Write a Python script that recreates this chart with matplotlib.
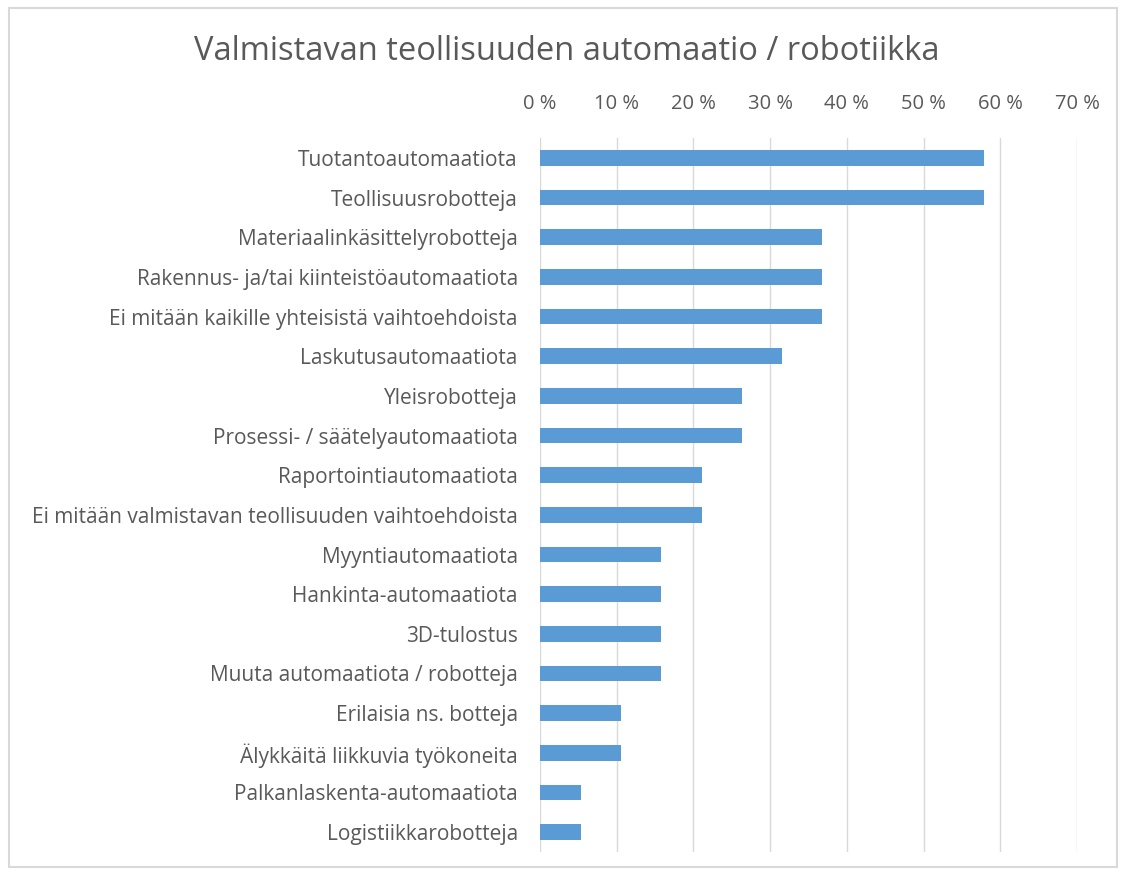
import matplotlib.pyplot as plt
from matplotlib.patches import Rectangle

# survey answers, share of respondents (n = 19)
categories = [
    "Tuotantoautomaatiota",
    "Teollisuusrobotteja",
    "Materiaalinkäsittelyrobotteja",
    "Rakennus- ja/tai kiinteistöautomaatiota",
    "Ei mitään kaikille yhteisistä vaihtoehdoista",
    "Laskutusautomaatiota",
    "Yleisrobotteja",
    "Prosessi- / säätelyautomaatiota",
    "Raportointiautomaatiota",
    "Ei mitään valmistavan teollisuuden vaihtoehdoista",
    "Myyntiautomaatiota",
    "Hankinta-automaatiota",
    "3D-tulostus",
    "Muuta automaatiota / robotteja",
    "Erilaisia ns. botteja",
    "Älykkäitä liikkuvia työkoneita",
    "Palkanlaskenta-automaatiota",
    "Logistiikkarobotteja",
]
shares = [57.9, 57.9, 36.8, 36.8, 36.8, 31.6, 26.3, 26.3, 21.1, 21.1,
          15.8, 15.8, 15.8, 15.8, 10.5, 10.5, 5.3, 5.3]
ticks = [0, 10, 20, 30, 40, 50, 60, 70]
title = "Valmistavan teollisuuden automaatio / robotiikka"

plt.rcParams["font.family"] = ["Open Sans", "DejaVu Sans"]
grey = "#595959"

fig = plt.figure(figsize=(11.25, 8.75), dpi=100)
ax = fig.add_axes([540 / 1125, 1 - 852 / 875, (1077 - 540) / 1125, (852 - 138) / 875])

y = list(range(len(categories)))
ax.barh(y, shares, height=0.4, color="#5B9BD5", zorder=3)
ax.set_ylim(len(categories) - 0.5, -0.5)
ax.set_xlim(0, 70)

ax.set_xticks(ticks)
ax.set_xticklabels([f"{t} %" for t in ticks])
ax.xaxis.tick_top()
ax.tick_params(axis="x", length=0, pad=17, labelsize=14.5, labelcolor=grey)
ax.set_yticks(y)
ax.set_yticklabels(categories)
ax.tick_params(axis="y", length=0, pad=16, labelsize=15, labelcolor=grey)

ax.grid(axis="x", color="#D9D9D9", linewidth=1, zorder=0)
for s in ax.spines.values():
    s.set_visible(False)

fig.text(567 / 1125, 1 - 52 / 875, title, ha="center", va="center", fontsize=23.5, color=grey)

# light border round the whole chart
fig.patches.append(Rectangle((9 / 1125, 1 - 867 / 875), 1108 / 1125, 859 / 875,
                             transform=fig.transFigure, fill=False,
                             edgecolor="#D9D9D9", linewidth=1.5))

fig.savefig("out.png", dpi=100)
